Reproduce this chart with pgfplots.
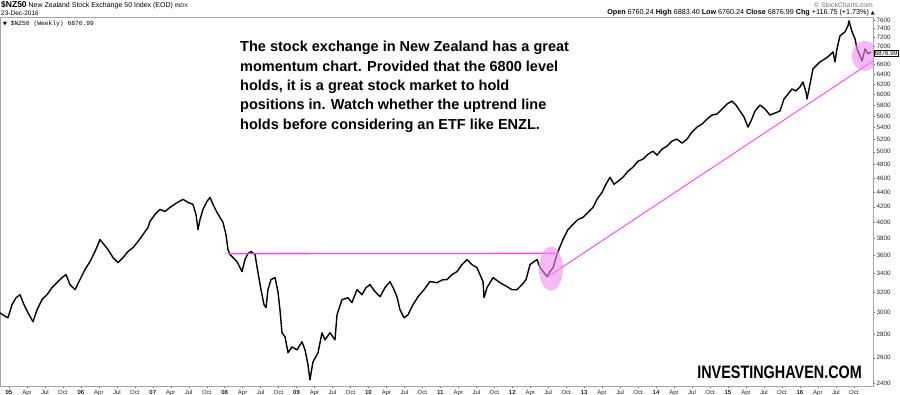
\documentclass[border=0pt]{standalone}
\usepackage{pgfplots}
\pgfplotsset{compat=1.18}
\usepackage{fontspec}
\setmainfont{Liberation Sans}
\newfontfamily\monofont{Liberation Mono}
\newfontfamily\djv{DejaVu Sans}
\definecolor{pinkline}{RGB}{255,64,255}
\definecolor{pinkfill}{RGB}{238,140,238}
\pgfplotstableread{
year value
2004.875 2999
2004.931 2971
2004.986 2952
2005.042 3077
2005.098 3146
2005.153 3176
2005.209 3077
2005.264 2999
2005.334 2915
2005.390 3028
2005.459 3126
2005.529 3176
2005.598 3248
2005.668 3300
2005.737 3353
2005.793 3385
2005.849 3279
2005.918 3227
2005.988 3332
2006.057 3440
2006.127 3528
2006.196 3643
2006.266 3784
2006.321 3725
2006.377 3666
2006.447 3573
2006.516 3517
2006.586 3573
2006.655 3643
2006.725 3689
2006.794 3760
2006.864 3845
2006.933 3931
2006.961 4008
2007.031 4098
2007.100 4164
2007.170 4137
2007.239 4190
2007.323 4245
2007.420 4299
2007.490 4258
2007.559 4231
2007.601 4098
2007.629 3907
2007.657 4033
2007.698 4164
2007.754 4272
2007.796 4326
2007.838 4231
2007.893 4124
2007.935 4059
2007.977 3995
2008.018 3845
2008.046 3666
2008.074 3608
2008.116 3573
2008.171 3528
2008.213 3461
2008.241 3418
2008.282 3551
2008.324 3620
2008.366 3643
2008.422 3608
2008.463 3407
2008.505 3227
2008.547 3077
2008.575 3048
2008.602 3227
2008.644 3332
2008.700 3353
2008.741 3207
2008.769 3028
2008.797 2814
2008.839 2779
2008.881 2641
2008.936 2691
2009.006 2666
2009.075 2735
2009.117 2666
2009.159 2542
2009.186 2423
2009.228 2566
2009.298 2641
2009.353 2814
2009.395 2752
2009.465 2814
2009.534 2752
2009.562 2980
2009.631 3126
2009.715 3146
2009.770 3097
2009.840 3227
2009.910 3176
2009.965 3248
2010.021 3279
2010.090 3207
2010.160 3156
2010.230 3248
2010.299 3311
2010.355 3227
2010.396 3156
2010.438 3028
2010.494 2952
2010.550 2980
2010.619 3077
2010.689 3156
2010.772 3227
2010.855 3311
2010.953 3300
2011.036 3332
2011.092 3332
2011.161 3385
2011.231 3418
2011.301 3495
2011.370 3551
2011.440 3495
2011.509 3461
2011.551 3385
2011.593 3311
2011.607 3146
2011.648 3248
2011.732 3353
2011.829 3300
2011.927 3258
2011.996 3227
2012.066 3227
2012.136 3279
2012.191 3332
2012.247 3495
2012.302 3528
2012.344 3551
2012.386 3461
2012.441 3407
2012.483 3364
2012.525 3418
2012.567 3461
2012.608 3573
2012.636 3643
2012.705 3784
2012.775 3907
2012.844 3970
2012.914 4033
2012.983 4059
2013.053 4124
2013.122 4190
2013.178 4299
2013.248 4396
2013.303 4510
2013.359 4612
2013.415 4510
2013.470 4553
2013.540 4612
2013.609 4701
2013.679 4761
2013.749 4853
2013.818 4884
2013.888 4962
2013.957 5010
2014.013 4946
2014.082 5042
2014.152 5091
2014.221 5172
2014.291 5206
2014.360 5139
2014.430 5206
2014.499 5323
2014.569 5408
2014.638 5460
2014.708 5546
2014.778 5619
2014.847 5637
2014.917 5727
2014.986 5819
2015.056 5874
2015.111 5800
2015.167 5691
2015.223 5583
2015.278 5408
2015.320 5512
2015.376 5691
2015.445 5800
2015.515 5727
2015.584 5619
2015.654 5655
2015.723 5691
2015.779 5912
2015.835 6007
2015.890 6104
2015.946 6065
2016.001 6143
2016.043 6241
2016.085 6046
2016.099 5912
2016.141 6200
2016.182 6505
2016.238 6589
2016.280 6652
2016.349 6716
2016.405 6780
2016.461 6867
2016.488 6652
2016.516 6933
2016.558 7226
2016.628 7319
2016.669 7460
2016.683 7579
2016.725 7319
2016.767 7158
2016.795 6933
2016.836 6780
2016.864 6673
2016.906 6933
2016.947 6824
2016.989 6867
}\nzdata
\begin{document}
\begin{tikzpicture}[x=1pt,y=1pt]
\begin{axis}[at={(0pt,9pt)}, anchor=south west, scale only axis,
  width=873pt, height=369pt,
  ymode=log, xmin=2004.875, xmax=2017.017, ymin=2377, ymax=7673,
  axis line style={black!35, line width=0.6pt},
  tick style={black!60, line width=0.4pt},
  tick align=outside, major tick length=2pt, minor tick length=0pt,
  xtick pos=bottom, ytick pos=right, yticklabel pos=right,
  /pgf/number format/assume math mode=true,
  ytick={2400,2600,2800,3000,3200,3400,3600,3800,4000,4200,4400,4600,4800,5000,5200,5400,5600,5800,6000,6200,6400,6600,6800,7000,7200,7400,7600},
  yticklabels={2400,2600,2800,3000,3200,3400,3600,3800,4000,4200,4400,4600,4800,5000,5200,5400,5600,5800,6000,6200,6400,6600,,7000,7200,7400,7600},
  yticklabel style={font=\fontsize{6.3}{7}\selectfont, text=black!85, anchor=west, xshift=-2pt},
  xtick={2005,2005.25,2005.5,2005.75,2006,2006.25,2006.5,2006.75,2007,2007.25,2007.5,2007.75,2008,2008.25,2008.5,2008.75,2009,2009.25,2009.5,2009.75,2010,2010.25,2010.5,2010.75,2011,2011.25,2011.5,2011.75,2012,2012.25,2012.5,2012.75,2013,2013.25,2013.5,2013.75,2014,2014.25,2014.5,2014.75,2015,2015.25,2015.5,2015.75,2016,2016.25,2016.5,2016.75},
  xticklabels={\textbf{05},Apr,Jul,Oct,\textbf{06},Apr,Jul,Oct,\textbf{07},Apr,Jul,Oct,\textbf{08},Apr,Jul,Oct,\textbf{09},Apr,Jul,Oct,\textbf{10},Apr,Jul,Oct,\textbf{11},Apr,Jul,Oct,\textbf{12},Apr,Jul,Oct,\textbf{13},Apr,Jul,Oct,\textbf{14},Apr,Jul,Oct,\textbf{15},Apr,Jul,Oct,\textbf{16},Apr,Jul,Oct},
  xticklabel style={font=\fontsize{6}{7}\selectfont, text=black!85, yshift=1pt},
]
\addplot[black, line width=1.4pt, line join=round] table[x=year, y=value] {\nzdata};
\addplot[color={rgb,255:red,255;green,64;blue,255}, line width=1.3pt] coordinates {(2008.046,3618) (2010.3,3620) (2012.636,3622)};
\addplot[pinkline, line width=0.9pt] coordinates {(2012.497,3364) (2017.017,6670)};
\fill[pinkfill, opacity=0.6] (axis cs:2012.538,3450) ellipse [x radius=12pt, y radius=22pt];
\fill[pinkfill, opacity=0.6] (axis cs:2016.906,6780) ellipse [x radius=13pt, y radius=15pt];
\end{axis}
% header
\node[anchor=west, inner sep=0pt, font=\fontsize{7}{8}\selectfont] at (1,390) {\textbf{\fontsize{8.5}{9}\selectfont \$NZ50} New Zealand Stock Exchange 50 Index (EOD) {\fontsize{5.5}{6}\selectfont INDX}};
\node[anchor=west, inner sep=0pt, font=\fontsize{6.5}{7}\selectfont] at (1,382) {23-Dec-2016};
\node[anchor=west, inner sep=0pt, font=\monofont\fontsize{6.3}{7}\selectfont] at (3,371) {{\djv\fontsize{5}{6}\selectfont ▼} \$NZ50 (Weekly) 6876.99};
\node[anchor=east, inner sep=0pt, font=\fontsize{6.8}{7}\selectfont, text=black!55] at (873,390) {\textcopyright{} StockCharts.com};
\node[anchor=east, inner sep=0pt, font=\fontsize{7.2}{8}\selectfont] at (875,382) {\textbf{Open} 6760.24 \textbf{High} 6883.40 \textbf{Low} 6760.24 \textbf{Close} 6876.99 \textbf{Chg} +116.75 (+1.73\%) {\djv\fontsize{5}{6}\selectfont ▲}};
% price box
\node[draw=black, fill=white, inner sep=0.8pt, anchor=west, font=\fontsize{6.3}{7}\selectfont] at (873.5,342) {6876.99};
% annotation
\node[anchor=north west, align=left, inner sep=0pt, font=\bfseries\fontsize{14.5}{19.4}\selectfont] at (240,354) {The stock exchange in New Zealand has a great\\momentum chart. Provided that the 6800 level\\holds, it is a great stock market to hold\\positions in. Watch whether the uptrend line\\holds before considering an ETF like ENZL.};
\node[anchor=east, inner sep=0pt, xscale=0.8, font=\bfseries\fontsize{18}{20}\selectfont] at (862,23) {INVESTINGHAVEN.COM};
\pgfresetboundingbox
\path[use as bounding box] (0,0) rectangle (900,395);
\end{tikzpicture}
\end{document}
